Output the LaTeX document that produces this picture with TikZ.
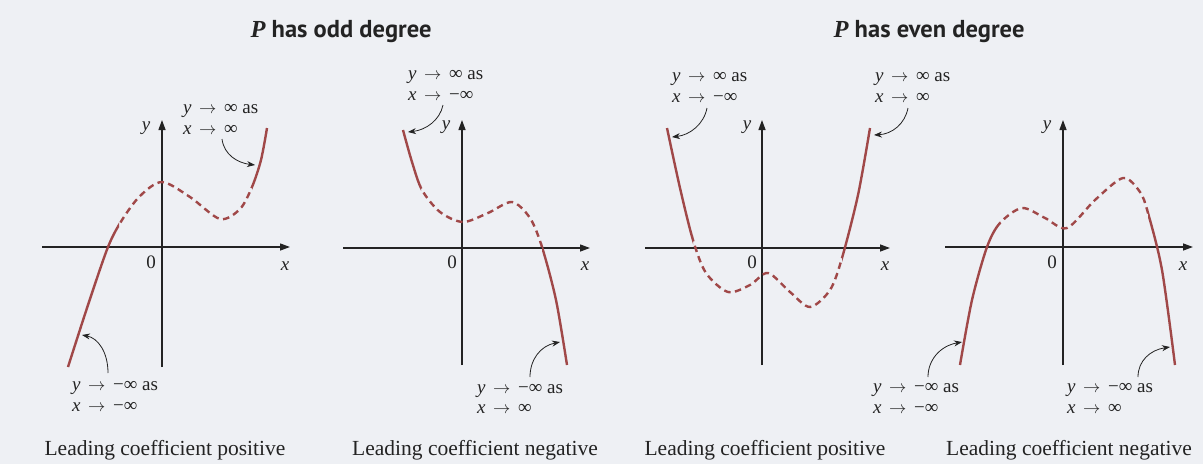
\documentclass[tikz,border=0pt]{standalone}
\usepackage{fontspec}
\setmainfont{Liberation Serif}
\newfontfamily\titlesans{PT Sans}
\usetikzlibrary{arrows.meta}
\definecolor{bgcol}{RGB}{238,240,244}
\definecolor{curvecol}{RGB}{160,72,72}
\definecolor{axiscol}{RGB}{35,35,35}
\newcommand{\myarr}{\hspace{0.4em}$\rightarrow$\hspace{0.4em}}
\newcommand{\labsize}{\fontsize{19}{21}\selectfont}
\newcommand{\curveA}{plot[smooth] coordinates {(68,367) (88,305) (108,247) (122,220) (140,196) (162,182) (190,197) (220,219) (240,209) (252,187) (261,160) (267,128)}}
\newcommand{\curveB}{plot[smooth] coordinates {(403,130) (412,162) (422,190) (440,212) (463,222) (488,213) (512,202) (530,218) (542,247) (556,300) (567,365)}}
\newcommand{\curveC}{plot[smooth] coordinates {(667,128) (680,188) (693,240) (706,273) (728,292) (750,285) (768,273) (790,292) (810,307) (830,290) (842,258) (858,195) (870,128)}}
\newcommand{\curveD}{plot[smooth] coordinates {(960,365) (972,300) (987,247) (1000,223) (1022,208) (1045,218) (1067,228) (1095,200) (1123,178) (1140,192) (1148,213) (1162,270) (1175,365)}}
\tikzset{
  axisline/.style={draw=axiscol, line width=1.3pt, -{Triangle[length=10pt,width=7pt]}},
  solidc/.style={draw=curvecol, line width=2.4pt},
  dashc/.style={draw=curvecol, line width=2.4pt, dash pattern=on 6.5pt off 4.5pt},
  lab/.style={font=\labsize, anchor=base west, inner sep=0pt, text=axiscol},
  axlab/.style={font=\labsize, inner sep=0pt, text=axiscol},
  ptr/.style={draw=axiscol, line width=0.8pt, -{Stealth[length=8pt,width=6pt]}},
  caption/.style={font=\fontsize{21.5}{24}\selectfont, inner sep=0pt, anchor=base, text=axiscol},
  titletext/.style={font=\titlesans\bfseries\fontsize{24.5}{28}\selectfont, inner sep=0pt, anchor=base, text=axiscol}
}
\begin{document}
\begin{tikzpicture}[x=1pt,y=-1pt]
\useasboundingbox (0,0) rectangle (1203,464);
\fill[bgcol] (0,0) rectangle (1203,464);

% titles
\node[titletext] (t1) at (341,37) {{\fontspec{Liberation Serif}\bfseries\itshape P} has odd degree};
\node[titletext] (t2) at (929,37) {{\fontspec{Liberation Serif}\bfseries\itshape P} has even degree};

% ===== Panel 1 =====
\coordinate (p1xl) at (42,247);  \coordinate (p1xr) at (290,247);
\coordinate (p1yb) at (162,367); \coordinate (p1yt) at (162,120);
\draw[axisline] (p1xl) -- (p1xr);
\draw[axisline] (p1yb) -- (p1yt);
\node[axlab] (p1y) at (146,128) {\itshape y};
\node[axlab] (p1o) at (151,262) {0};
\node[axlab] (p1x) at (285,266) {\itshape x};
\begin{scope}\clip (0,0) rectangle (119,464); \draw[solidc] \curveA; \end{scope}
\begin{scope}\clip (119,0) rectangle (252,464); \draw[dashc] \curveA; \end{scope}
\begin{scope}\clip (252,0) rectangle (300,464); \draw[solidc] \curveA; \end{scope}
\node[lab] (p1a1) at (183,113) {{\itshape y}\myarr ∞ as};
\node[lab] (p1a2) at (183,134) {{\itshape x}\myarr ∞};
\coordinate (p1s1) at (222,139); \coordinate (p1e1) at (255,165);
\draw[ptr] (p1s1) .. controls (224,155) and (238,163) .. (p1e1);
\node[lab] (p1b1) at (72,390) {{\itshape y}\myarr −∞ as};
\node[lab] (p1b2) at (72,411) {{\itshape x}\myarr −∞};
\coordinate (p1s2) at (108,373); \coordinate (p1e2) at (82,335);
\draw[ptr] (p1s2) .. controls (108,352) and (98,338) .. (p1e2);
\node[caption] (c1) at (165,455) {Leading coefficient positive};

% ===== Panel 2 =====
\coordinate (p2xl) at (343,248);  \coordinate (p2xr) at (590,248);
\coordinate (p2yb) at (462,365); \coordinate (p2yt) at (462,120);
\draw[axisline] (p2xl) -- (p2xr);
\draw[axisline] (p2yb) -- (p2yt);
\node[axlab] (p2y) at (446,127) {\itshape y};
\node[axlab] (p2o) at (452,262) {0};
\node[axlab] (p2x) at (585,266) {\itshape x};
\begin{scope}\clip (300,0) rectangle (421,464); \draw[solidc] \curveB; \end{scope}
\begin{scope}\clip (421,0) rectangle (542,464); \draw[dashc] \curveB; \end{scope}
\begin{scope}\clip (542,0) rectangle (600,464); \draw[solidc] \curveB; \end{scope}
\node[lab] (p2a1) at (408,79) {{\itshape y}\myarr ∞ as};
\node[lab] (p2a2) at (408,100) {{\itshape x}\myarr −∞};
\coordinate (p2s1) at (443,105); \coordinate (p2e1) at (408,132);
\draw[ptr] (p2s1) .. controls (440,120) and (426,130) .. (p2e1);
\node[lab] (p2b1) at (477,393) {{\itshape y}\myarr −∞ as};
\node[lab] (p2b2) at (477,413) {{\itshape x}\myarr ∞};
\coordinate (p2s2) at (530,377); \coordinate (p2e2) at (560,342);
\draw[ptr] (p2s2) .. controls (530,360) and (540,346) .. (p2e2);
\node[caption] (c2) at (475,455) {Leading coefficient negative};

% ===== Panel 3 =====
\coordinate (p3xl) at (645,248);  \coordinate (p3xr) at (890,248);
\coordinate (p3yb) at (762,365); \coordinate (p3yt) at (762,120);
\draw[axisline] (p3xl) -- (p3xr);
\draw[axisline] (p3yb) -- (p3yt);
\node[axlab] (p3y) at (747,127) {\itshape y};
\node[axlab] (p3o) at (752,262) {0};
\node[axlab] (p3x) at (885,266) {\itshape x};
\begin{scope}\clip (600,0) rectangle (693,464); \draw[solidc] \curveC; \end{scope}
\begin{scope}\clip (693,0) rectangle (842,464); \draw[dashc] \curveC; \end{scope}
\begin{scope}\clip (842,0) rectangle (900,464); \draw[solidc] \curveC; \end{scope}
\node[lab] (p3a1) at (672,81) {{\itshape y}\myarr ∞ as};
\node[lab] (p3a2) at (672,102) {{\itshape x}\myarr −∞};
\coordinate (p3s1) at (707,108); \coordinate (p3e1) at (672,137);
\draw[ptr] (p3s1) .. controls (704,124) and (690,135) .. (p3e1);
\node[lab] (p3c1) at (875,81) {{\itshape y}\myarr ∞ as};
\node[lab] (p3c2) at (875,102) {{\itshape x}\myarr ∞};
\coordinate (p3s2) at (908,108); \coordinate (p3e2) at (874,135);
\draw[ptr] (p3s2) .. controls (905,124) and (892,134) .. (p3e2);
\node[caption] (c3) at (765,455) {Leading coefficient positive};

% ===== Panel 4 =====
\coordinate (p4xl) at (945,247);  \coordinate (p4xr) at (1193,247);
\coordinate (p4yb) at (1063,365); \coordinate (p4yt) at (1063,120);
\draw[axisline] (p4xl) -- (p4xr);
\draw[axisline] (p4yb) -- (p4yt);
\node[axlab] (p4y) at (1047,127) {\itshape y};
\node[axlab] (p4o) at (1052,262) {0};
\node[axlab] (p4x) at (1183,266) {\itshape x};
\begin{scope}\clip (900,0) rectangle (1000,464); \draw[solidc] \curveD; \end{scope}
\begin{scope}\clip (1000,0) rectangle (1148,464); \draw[dashc] \curveD; \end{scope}
\begin{scope}\clip (1148,0) rectangle (1203,464); \draw[solidc] \curveD; \end{scope}
\node[lab] (p4b1) at (873,392) {{\itshape y}\myarr −∞ as};
\node[lab] (p4b2) at (873,413) {{\itshape x}\myarr −∞};
\coordinate (p4s1) at (928,377); \coordinate (p4e1) at (962,342);
\draw[ptr] (p4s1) .. controls (928,360) and (940,346) .. (p4e1);
\node[lab] (p4c1) at (1067,392) {{\itshape y}\myarr −∞ as};
\node[lab] (p4c2) at (1067,413) {{\itshape x}\myarr ∞};
\coordinate (p4s2) at (1138,377); \coordinate (p4e2) at (1170,347);
\draw[ptr] (p4s2) .. controls (1138,361) and (1150,350) .. (p4e2);
\node[caption] (c4) at (1069,455) {Leading coefficient negative};
\end{tikzpicture}
\end{document}
